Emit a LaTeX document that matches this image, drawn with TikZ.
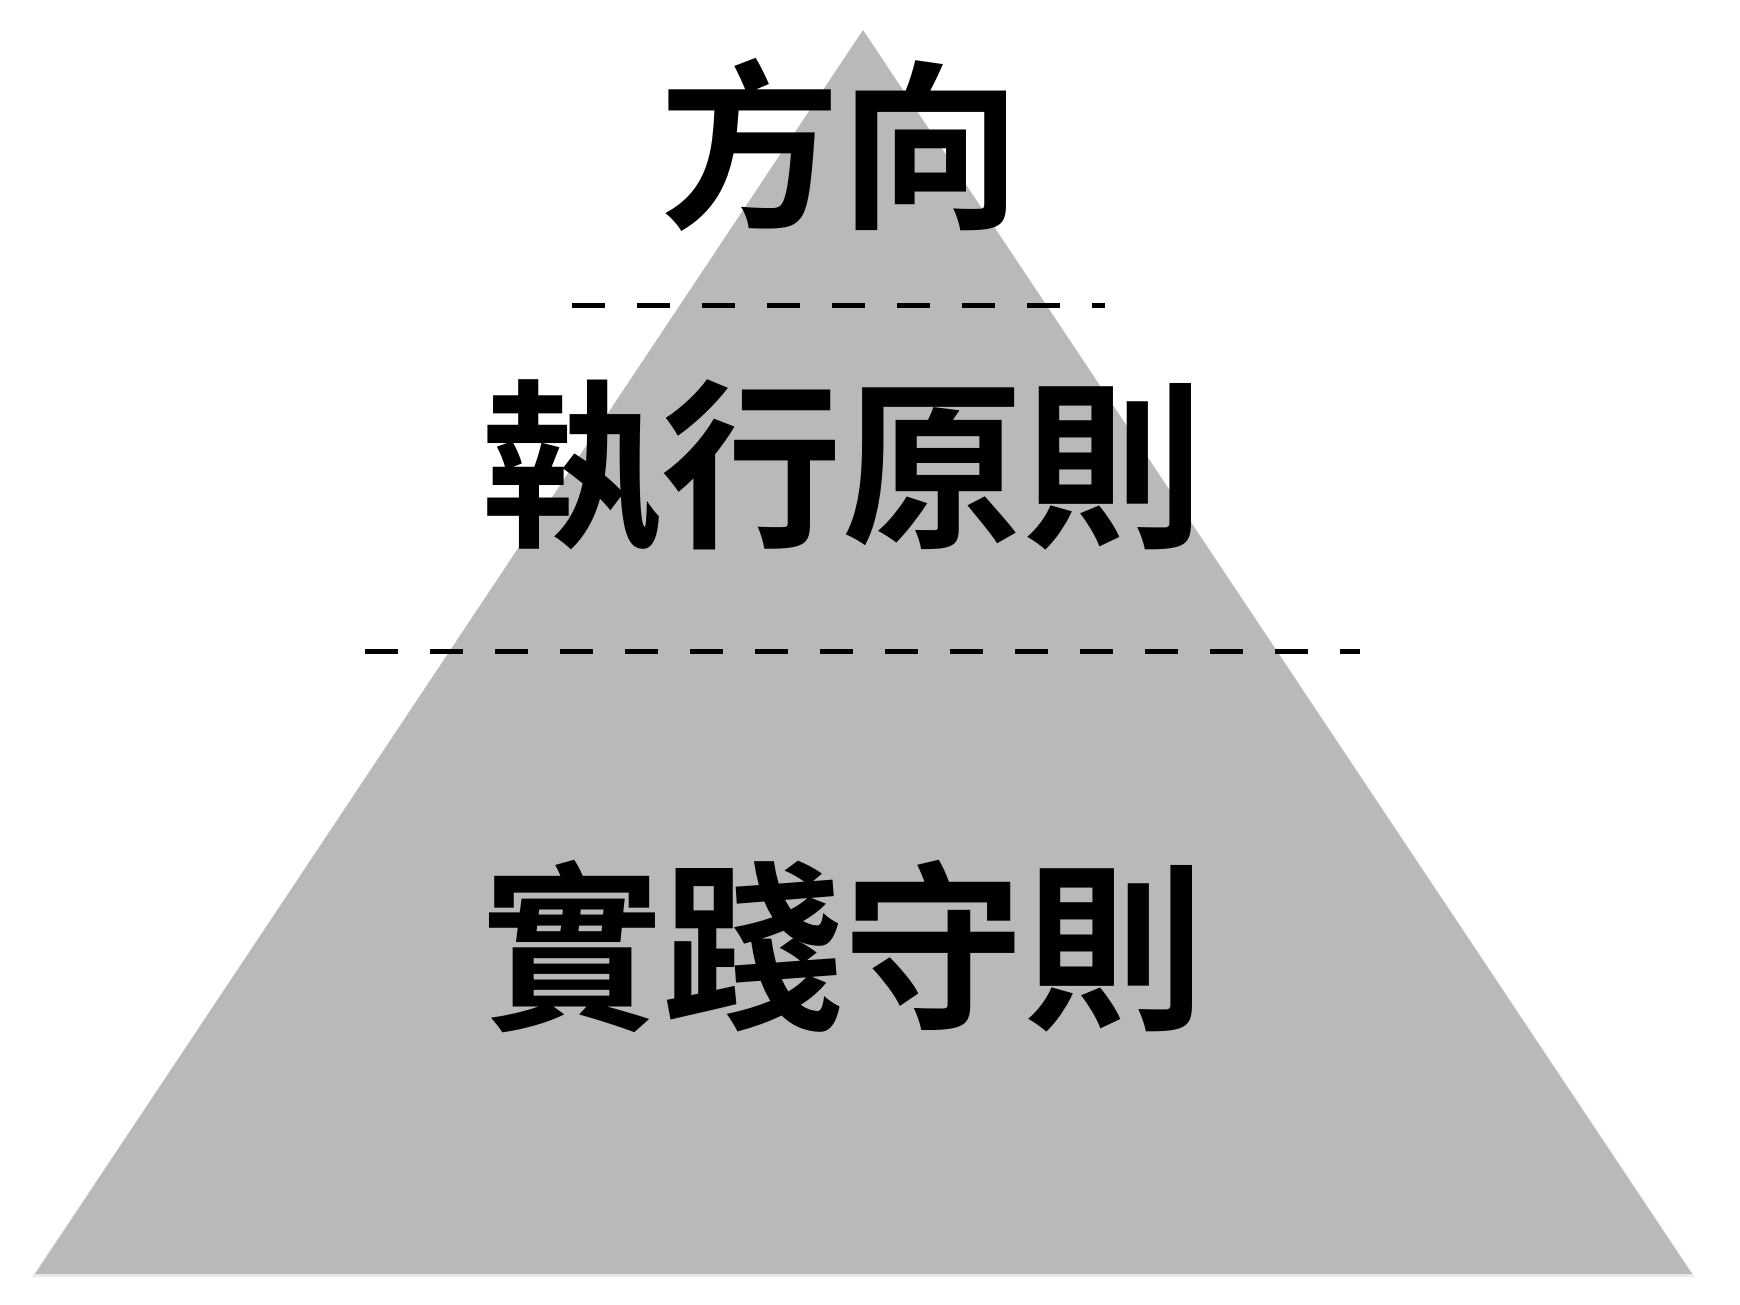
\documentclass[tikz,border=0pt]{standalone}
\usepackage{fontspec}
\newfontfamily\cjkb{Noto Sans CJK TC Bold}
\definecolor{pyr}{RGB}{185,185,185}
\begin{document}
\begin{tikzpicture}[x=1pt,y=-1pt,
  lvl/.style={inner sep=0pt, font=\cjkb\fontsize{181}{181}\selectfont},
  sep/.style={line width=5pt, dash pattern=on 32.5pt off 32.5pt}]
\useasboundingbox (0,0) rectangle (1740,1304);
\coordinate (apex) at (863,30);
\coordinate (bl) at (35,1274);
\coordinate (br) at (1692,1274);
\fill[black!8] (864,33) -- (1695,1277) -- (32,1277) -- cycle;
\fill[pyr] (apex) -- (br) -- (bl) -- cycle;
\coordinate (a1) at (572,305);
\coordinate (a2) at (1105,305);
\coordinate (b1) at (365,651);
\coordinate (b2) at (1360,651);
\draw[sep] (a1) -- (a2);
\draw[sep] (b1) -- (b2);
\node[lvl] (t1) at (840,145) {方向};
\node[lvl] (t2) at (842,466) {執行原則};
\node[lvl] (t3) at (843,947) {實踐守則};
\end{tikzpicture}
\end{document}
